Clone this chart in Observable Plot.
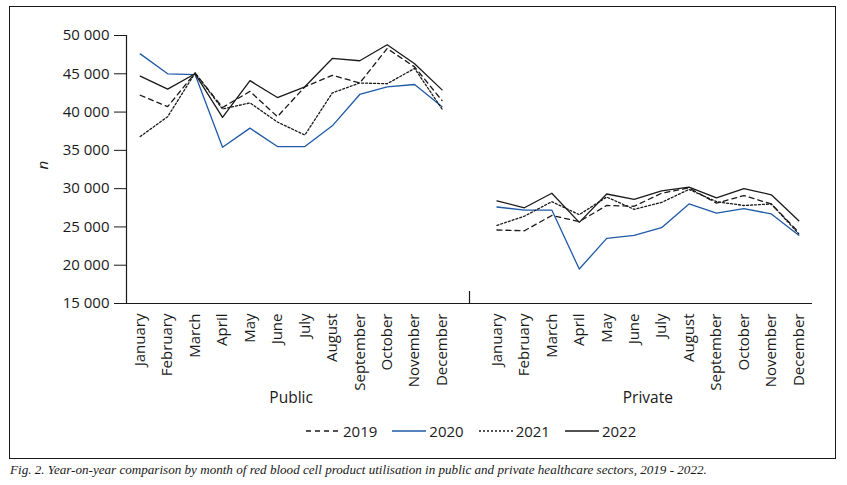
<!DOCTYPE html>
<html>
<head>
<meta charset="utf-8">
<script src="https://cdn.jsdelivr.net/npm/d3@7"></script>
<script src="https://cdn.jsdelivr.net/npm/@observablehq/plot@0.6"></script>
<style>
  body { margin: 0; background: #fff; font-family: "Open Sans", sans-serif; }
  #wrap { position: relative; width: 847px; height: 485px; overflow: hidden; }
  #frame { position: absolute; left: 9px; top: 6px; width: 827px; height: 453px; border: 1px solid #1a1a1a; box-sizing: border-box; }
  #chart { position: absolute; left: 0; top: 0; }
  #legend { position: absolute; left: 306px; top: 421px; display: flex; align-items: center; font-size: 15px; color: #1a1a1a; }
  #legend .item { display: flex; align-items: center; margin-right: 15px; }
  #legend svg { margin-right: 3px; }
  #caption { position: absolute; left: 10px; top: 462px; font-family: "Liberation Serif", serif; font-style: italic; font-size: 13.1px; color: #1a1a1a; white-space: nowrap; }
</style>
</head>
<body>
<div id="wrap">
  <div id="frame"></div>
  <div id="chart"></div>
  <div id="legend"></div>
  <div id="caption">Fig. 2. Year-on-year comparison by month of red blood cell product utilisation in public and private healthcare sectors, 2019 - 2022.</div>
</div>
<script>
const months = ["January","February","March","April","May","June","July","August","September","October","November","December"];
const sectors = ["Public", "Private"];
const years = ["2019", "2020", "2021", "2022"];
const yTicks = [15000, 20000, 25000, 30000, 35000, 40000, 45000, 50000];

const public2019 = [42200, 40700, 45100, 40600, 42700, 39400, 43300, 44800, 43800, 48300, 45900, 41500];
const public2020 = [47600, 45000, 44900, 35400, 37900, 35500, 35500, 38200, 42300, 43300, 43600, 40700];
const public2021 = [36800, 39400, 45100, 40400, 41200, 38700, 37000, 42500, 43800, 43700, 45700, 40400];
const public2022 = [44700, 43000, 45000, 39300, 44100, 41900, 43300, 47000, 46700, 48800, 46300, 42900];

const private2019 = [24600, 24500, 26500, 25700, 27800, 27700, 29400, 30100, 28100, 29100, 28000, 24300];
const private2020 = [27600, 27200, 27200, 19500, 23500, 23900, 24900, 28000, 26800, 27400, 26700, 23900];
const private2021 = [25200, 26400, 28300, 26600, 28900, 27300, 28200, 29900, 28300, 27800, 28000, 24100];
const private2022 = [28400, 27500, 29400, 25600, 29300, 28600, 29700, 30200, 28800, 30000, 29200, 25800];

const series = {
  Public: {"2019": public2019, "2020": public2020, "2021": public2021, "2022": public2022},
  Private: {"2019": private2019, "2020": private2020, "2021": private2021, "2022": private2022}
};

// position index: public months 0..11, an empty gap slot, private months 13..24
const slot = (s, i) => s * (months.length + 1) + i;
const gapSlot = months.length;
const nSlots = 2 * months.length + 1;

const rows = [];
sectors.forEach((sec, s) => {
  years.forEach(yr => {
    series[sec][yr].forEach((v, i) => rows.push({x: slot(s, i), y: v, year: yr, sector: sec}));
  });
});

const tickIdx = [];
const tickLab = {};
sectors.forEach((sec, s) => months.forEach((m, i) => { tickIdx.push(slot(s, i)); tickLab[slot(s, i)] = m; }));

const groupLabels = sectors.map((sec, s) => ({name: sec, x: (slot(s, 0) + slot(s, months.length - 1)) / 2}));

const styles = {
  "2019": {stroke: "#1a1a1a", dash: "5,4"},
  "2020": {stroke: "#1f5aa6", dash: null},
  "2021": {stroke: "#1a1a1a", dash: "2,2"},
  "2022": {stroke: "#1a1a1a", dash: null}
};

const xDomain = [-0.5, nSlots - 0.5];
const yDomain = [15000, 50000];
const fmt = d => d3.format(",")(d).replace(/,/g, " ");

const marginTop = 35, marginBottom = 112, height = 415;
const plotH = height - marginTop - marginBottom;

const chart = Plot.plot({
  width: 847,
  height,
  marginLeft: 126,
  marginRight: 35,
  marginTop,
  marginBottom,
  style: {fontFamily: "Open Sans, sans-serif", fontSize: "15px", color: "#1a1a1a", background: "transparent"},
  x: {domain: xDomain, axis: null},
  y: {domain: yDomain, axis: null},
  marks: [
    Plot.axisY({ticks: yTicks, tickFormat: fmt, tickSize: 12, tickPadding: 5, label: null, fontSize: 15}),
    Plot.axisX(tickIdx, {tickFormat: d => tickLab[d], tickRotate: -90, tickSize: 0, tickPadding: 10, label: null, fontSize: 15}),
    Plot.ruleY([yDomain[0]], {stroke: "#1a1a1a", strokeWidth: 1.2}),
    Plot.ruleX([xDomain[0]], {stroke: "#1a1a1a", strokeWidth: 1.2}),
    Plot.ruleX([gapSlot], {stroke: "#1a1a1a", strokeWidth: 1.2, insetTop: plotH - 12}),
    ...years.map(yr => Plot.line(rows.filter(r => r.year === yr), {
      x: "x", y: "y", z: "sector",
      stroke: styles[yr].stroke, strokeWidth: 1.3,
      strokeDasharray: styles[yr].dash
    })),
    Plot.text(groupLabels, {x: "x", text: "name", frameAnchor: "bottom", dy: 99, fontSize: 15.5, fill: "#1a1a1a"}),
    Plot.text(["n"], {text: d => d, frameAnchor: "left", dx: -83, rotate: -90, fontStyle: "italic", fontSize: 15, fill: "#1a1a1a"})
  ]
});
document.getElementById("chart").appendChild(chart);

const legend = document.getElementById("legend");
years.forEach(yr => {
  const item = document.createElement("div");
  item.className = "item";
  const st = styles[yr];
  item.innerHTML = `<svg width="34" height="10"><line x1="0" y1="5" x2="34" y2="5" stroke="${st.stroke}" stroke-width="1.3" ${st.dash ? `stroke-dasharray="${st.dash}"` : ""}/></svg><span>${yr}</span>`;
  legend.appendChild(item);
});
</script>
</body>
</html>
